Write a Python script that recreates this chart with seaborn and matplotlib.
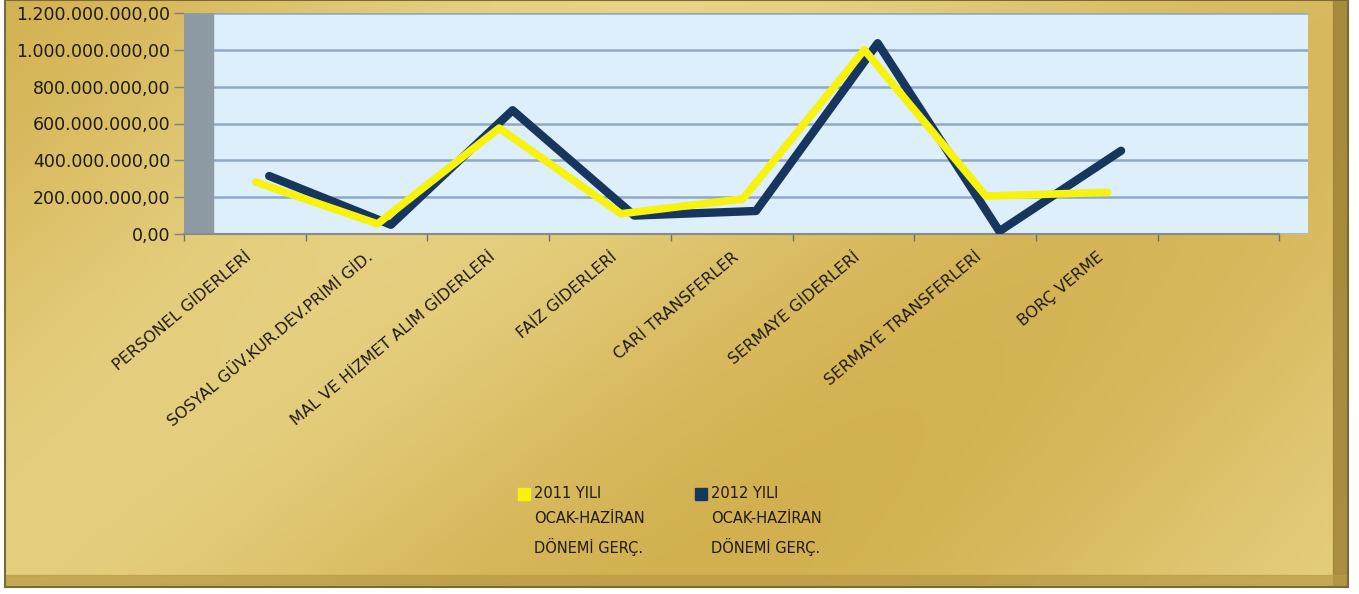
import numpy as np
import pandas as pd
import matplotlib
matplotlib.use("Agg")
import matplotlib.pyplot as plt
from matplotlib.colors import LinearSegmentedColormap
from matplotlib.lines import Line2D
from matplotlib.patches import Rectangle
import seaborn as sns

# data (TL)
categories = ["PERSONEL GİDERLERİ", "SOSYAL GÜV.KUR.DEV.PRİMİ GİD.",
              "MAL VE HİZMET ALIM GİDERLERİ", "FAİZ GİDERLERİ",
              "CARİ TRANSFERLER", "SERMAYE GİDERLERİ",
              "SERMAYE TRANSFERLERİ", "BORÇ VERME"]
gercek_2011 = [282e6, 55e6, 575e6, 110e6, 190e6, 1000e6, 206e6, 226e6]
gercek_2012 = [315e6, 50e6, 672e6, 100e6, 125e6, 1036e6, 15e6, 452e6]
series_names = ["2011 YILI\nOCAK-HAZİRAN\nDÖNEMİ GERÇ.",
                "2012 YILI\nOCAK-HAZİRAN\nDÖNEMİ GERÇ."]
y_ticks = [0, 200e6, 400e6, 600e6, 800e6, 1000e6, 1200e6]

colors = {series_names[0]: "#F7F20E", series_names[1]: "#17365D"}
widths = {series_names[0]: 5.5, series_names[1]: 6.0}
# the old 3D chart puts each series at its own depth -> small x shift
depth = {series_names[0]: 0.09, series_names[1]: 0.20}


def tr_number(v, pos=None):
    s = f"{v:,.2f}"
    return s.replace(",", "X").replace(".", ",").replace("X", ".")


df = pd.DataFrame({
    "kalem": categories * 2,
    "sira": list(range(len(categories))) * 2,
    "deger": gercek_2011 + gercek_2012,
    "seri": [series_names[0]] * len(categories) + [series_names[1]] * len(categories),
})
df["x"] = df["sira"] + df["seri"].map(depth)

sns.set_theme(style="white")
plt.rcParams["font.family"] = ["DejaVu Sans"]

W, H = 1359, 594
fig = plt.figure(figsize=(W / 100, H / 100), dpi=100)
fig.patch.set_facecolor("white")

# gold background
bg = fig.add_axes([0.004, 0.012, 0.988, 0.988], zorder=0)
yy, xx = np.mgrid[0:1:200j, 0:1:500j]
shade = 0.5 + 0.5 * np.cos(2 * np.pi * (xx * 0.9 + yy * 0.45 - 0.42))
shade = 0.75 * shade + 0.25 * xx * (1 - yy)
gold = LinearSegmentedColormap.from_list("gold", ["#D2B04F", "#DEC46E", "#EBD88E"])
bg.imshow(shade, cmap=gold, aspect="auto", extent=[0, 1, 0, 1], vmin=0, vmax=1)
bg.set_xlim(0, 1)
bg.set_ylim(0, 1)
bg.set_xticks([])
bg.set_yticks([])
for side, sp in bg.spines.items():
    sp.set_visible(True)
    sp.set_color("#7A6A3A")
    sp.set_linewidth(1.5)
bg.add_patch(Rectangle((0.989, 0), 0.011, 1, color="#9C8035", alpha=0.8))
bg.add_patch(Rectangle((0, 0), 1, 0.02, color="#B89A45", alpha=0.7))

# plot area
px_slot = 121.7
x0 = -0.5
ax = fig.add_axes([184 / W, (H - 234) / H, 1124 / W, 221 / H], zorder=2)
ax.set_facecolor("#DDEFFA")
ax.set_xlim(x0, x0 + 1124 / px_slot)
ax.set_ylim(0, 1.2e9)
ax.axvspan(x0, x0 + 29 / px_slot, color="#8E9BA5", zorder=1)

for name in series_names[::-1]:
    sub = df[df["seri"] == name]
    sns.lineplot(data=sub, x="x", y="deger", color=colors[name],
                 linewidth=widths[name], sort=False, ax=ax, zorder=3,
                 solid_capstyle="round", legend=False)

ax.set_yticks(y_ticks)
ax.yaxis.set_major_formatter(matplotlib.ticker.FuncFormatter(tr_number))
ax.grid(axis="y", color="#8FA8C6", linewidth=1.8)
ax.set_axisbelow(True)

ax.set_xticks(range(len(categories)))
ax.set_xticklabels(categories, rotation=40, ha="right", rotation_mode="anchor")
ax.set_xticks(np.arange(-0.5, 9.0, 1.0), minor=True)
ax.tick_params(axis="x", which="major", length=0, pad=11, labelsize=11.5,
               labelcolor="#1E1A10")
ax.tick_params(axis="x", which="minor", length=5, width=1, color="#6F6F6F",
               direction="out", bottom=True)
ax.tick_params(axis="y", length=7, width=1, color="#7F7F7F", left=True,
               labelsize=12.5, labelcolor="#1E1A10", pad=3)
ax.set_xlabel("")
ax.set_ylabel("")
for side in ["left", "right", "top"]:
    ax.spines[side].set_visible(False)
ax.spines["bottom"].set_color("#8A8A8A")
ax.spines["bottom"].set_linewidth(1.5)
ax.spines["bottom"].set_bounds(-0.5, 8.5)

# legend: square markers, marker sitting on the first line of the label
fs = 10.5
handles = [Line2D([], [], linestyle="none", marker="s", markersize=8,
                  color=colors[n]) for n in series_names]
leg = fig.legend(handles, series_names, loc="upper left",
                 bbox_to_anchor=(505 / W, 1 - 473 / H), ncol=2, frameon=False,
                 fontsize=fs, handlelength=0.8, handletextpad=0.3,
                 columnspacing=3.45, labelspacing=0.5)
for t in leg.get_texts():
    t.set_linespacing(1.8)
    t.set_color("#1E1A10")
for h in leg.legend_handles:
    yd = h.get_ydata()
    h.set_ydata([v + 20 for v in yd])

fig.savefig("out.png", dpi=100, facecolor=fig.get_facecolor())
